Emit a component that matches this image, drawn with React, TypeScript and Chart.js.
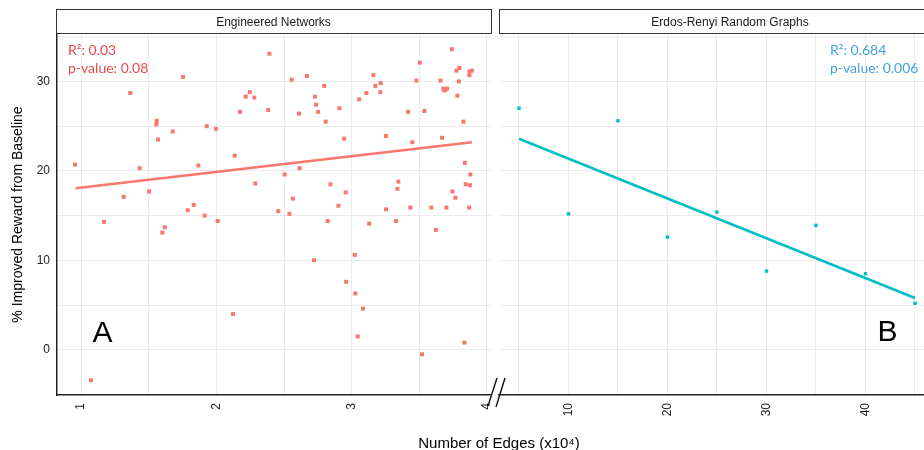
import React, { useEffect, useRef } from 'react';
import { Chart, registerables } from 'chart.js';
Chart.register(...registerables);

// ---------- data ----------
const ENG_X = [
  0.956, 1.364, 1.754, 2.392, 1.559, 1.557, 1.569, 1.678, 1.929, 1.998,
  2.175, 2.217, 2.247, 2.281, 2.384, 2.136, 1.434, 1.867, 2.288, 1.315,
  1.503, 1.788, 1.833, 1.914, 2.010, 1.170, 1.619, 1.601, 2.123, 1.074,
  3.740, 3.503, 3.774, 3.796, 3.870, 3.888, 3.870, 3.792, 3.656, 3.478,
  2.557, 2.670, 3.160, 2.798, 3.175, 3.215, 3.678, 3.695, 3.685, 3.705,
  2.729, 3.109, 3.212, 2.737, 3.055, 3.781, 2.752, 2.611, 2.909, 3.417,
  3.537, 2.808, 3.826, 2.944, 3.254, 3.449, 3.668, 3.836, 3.877, 2.505,
  2.616, 3.843, 3.875, 3.345, 3.338, 2.843, 2.956, 3.744, 3.766, 2.565,
  2.902, 2.458, 2.540, 3.254, 3.434, 3.589, 3.700, 3.868, 2.823, 3.129,
  3.328, 3.622, 3.023, 2.722, 2.959, 3.027, 3.084, 3.045, 3.833, 3.520,
];
const ENG_Y = [
  20.7, 28.7, 30.5, 33.1, 25.6, 25.2, 23.5, 24.4, 25.0, 24.7,
  26.6, 28.3, 28.8, 28.2, 26.8, 21.7, 20.3, 20.6, 18.6, 17.1,
  17.7, 15.6, 16.2, 15.0, 14.4, 14.3, 13.7, 13.1, 4.0, -3.4,
  33.6, 32.1, 31.2, 31.5, 31.1, 31.2, 30.7, 30.0, 30.1, 30.1,
  30.2, 30.6, 30.7, 29.5, 29.5, 29.8, 29.2, 29.1, 29.0, 29.2,
  28.3, 28.7, 28.8, 27.4, 28.0, 28.4, 26.6, 26.4, 27.0, 26.6,
  26.7, 25.5, 25.5, 23.6, 23.9, 23.2, 23.7, 20.9, 19.6, 19.6,
  20.3, 18.5, 18.4, 18.8, 18.0, 18.5, 17.6, 17.7, 17.0, 16.9,
  16.1, 15.5, 15.2, 15.7, 15.9, 15.9, 15.9, 15.9, 14.4, 14.1,
  14.4, 13.4, 10.6, 10.0, 7.6, 6.3, 4.6, 1.5, 0.8, -0.5,
];
const ER_X = [5, 10, 15, 20, 25, 30, 35, 40, 45];
const ER_Y = [27.0, 15.2, 25.6, 12.6, 15.4, 8.8, 13.9, 8.5, 5.2];

// fitted-line end points
const ENG_FIT_X = [0.96, 3.888];
const ENG_FIT_Y = [18.05, 23.2];
const ER_FIT_X = [5, 45];
const ER_FIT_Y = [23.6, 5.8];

const Y_TICKS = [-5, 0, 5, 10, 15, 20, 25, 30, 35];
const Y_LABELED = [0, 10, 20, 30];
const ENG_X_TICKS = [1, 1.5, 2, 2.5, 3, 3.5, 4];
const ENG_X_LABELED = [1, 2, 3, 4];
const ER_X_TICKS = [5, 10, 15, 20, 25, 30, 35, 40, 45];
const ER_X_LABELED = [10, 20, 30, 40];

const PANEL_TITLES = ['Engineered Networks', 'Erdos-Renyi Random Graphs'];
const ENG_STATS = ['R\u00B2: 0.03', 'p-value: 0.08'];
const ER_STATS = ['R\u00B2: 0.684', 'p-value: 0.006'];
const PANEL_TAGS = ['A', 'B'];
const Y_TITLE = '% Improved Reward from Baseline';
const X_TITLE = 'Number of Edges (x10\u2074)';

// ---------- styles ----------
const W = 924;
const H = 450;
const SANS = '"Liberation Sans", Arial, sans-serif';
const NOTE = 'Lato, "Open Sans", sans-serif';
const RED = '#F8766D';
const TEAL = '#00BFC4';
const GRID = '#EBEBEB';
const TICK_COLOR = '#222222';

function xyPairs(xs: number[], ys: number[]) {
  return xs.map((x, i) => ({ x, y: ys[i] }));
}

function fixTicks(list: number[]) {
  return (axis: any) => {
    axis.ticks = list.map((v) => ({ value: v }));
  };
}

function yScale(showLabels: boolean, showTitle: boolean, width: number, showBorder: boolean) {
  return {
    type: 'linear',
    min: -5.05,
    max: 35.3,
    afterBuildTicks: fixTicks(Y_TICKS),
    afterFit: (s: any) => {
      s.width = width;
      s.paddingTop = 0;
      s.paddingBottom = 0;
    },
    grid: { color: GRID, lineWidth: 1, drawTicks: false },
    border: { display: showBorder, color: '#222', width: 1.5 },
    ticks: {
      display: showLabels,
      autoSkip: false,
      padding: 7,
      color: TICK_COLOR,
      font: { family: SANS, size: 12 },
      callback: (v: any) => (Y_LABELED.includes(v) ? String(v) : ''),
    },
    title: {
      display: showTitle,
      text: Y_TITLE,
      color: '#000',
      font: { family: SANS, size: 14 },
      padding: { top: 10, bottom: 0 },
    },
  };
}

function xScale(min: number, max: number, ticks: number[], labeled: number[]) {
  return {
    type: 'linear',
    min,
    max,
    afterBuildTicks: fixTicks(ticks),
    afterFit: (s: any) => {
      s.height = H - 395;
      s.paddingLeft = 0;
      s.paddingRight = 0;
    },
    grid: { color: GRID, lineWidth: 1, drawTicks: false },
    border: { display: true, color: '#222', width: 1.5 },
    ticks: {
      autoSkip: false,
      minRotation: 90,
      maxRotation: 90,
      padding: 8,
      color: TICK_COLOR,
      font: { family: SANS, size: 12 },
      callback: (v: any) => (labeled.includes(v) ? String(v) : ''),
    },
  };
}

const figurePlugin = {
  id: 'figureDecor',
  afterDraw(chart: any) {
    const ctx = chart.ctx;
    ctx.save();
    // strips
    ctx.fillStyle = '#fff';
    ctx.strokeStyle = '#333';
    ctx.lineWidth = 1;
    ctx.fillRect(56.5, 9.5, 435, 24);
    ctx.strokeRect(56.5, 9.5, 435, 24);
    ctx.fillRect(499.5, 9.5, 470, 24);
    ctx.strokeRect(499.5, 9.5, 470, 24);
    ctx.fillStyle = '#1A1A1A';
    ctx.font = `12px ${SANS}`;
    ctx.textAlign = 'center';
    ctx.textBaseline = 'alphabetic';
    ctx.fillText(PANEL_TITLES[0], 273.5, 26);
    ctx.fillText(PANEL_TITLES[1], 730, 26);

    // stats text, left panel
    ctx.textAlign = 'left';
    ctx.fillStyle = '#E8494A';
    ctx.font = `14px ${NOTE}`;
    ctx.fillText(ENG_STATS[0], 68, 55);
    ctx.fillText(ENG_STATS[1], 68, 72.5);

    // tag A
    ctx.fillStyle = '#000';
    ctx.font = `30px ${SANS}`;
    ctx.fillText(PANEL_TAGS[0], 92.5, 341.5);

    // axis break marks
    ctx.strokeStyle = '#111';
    ctx.lineWidth = 1.4;
    ctx.beginPath();
    ctx.moveTo(488, 406);
    ctx.lineTo(497, 378);
    ctx.moveTo(496, 407);
    ctx.lineTo(505, 378);
    ctx.stroke();

    // x title
    ctx.fillStyle = '#000';
    ctx.font = `15px ${SANS}`;
    ctx.textAlign = 'center';
    ctx.fillText(X_TITLE, 499, 448);
    ctx.restore();
  },
};

const rightPlugin = {
  id: 'rightDecor',
  afterDraw(chart: any) {
    const ctx = chart.ctx;
    ctx.save();
    ctx.textAlign = 'left';
    ctx.fillStyle = '#45A5DA';
    ctx.font = `14px ${NOTE}`;
    ctx.fillText(ER_STATS[0], 830, 55);
    ctx.fillText(ER_STATS[1], 830, 72.5);
    ctx.fillStyle = '#000';
    ctx.font = `30px ${SANS}`;
    ctx.fillText(PANEL_TAGS[1], 877.5, 340.5);
    ctx.restore();
  },
};

export default function App() {
  const leftRef = useRef<HTMLCanvasElement>(null);
  const rightRef = useRef<HTMLCanvasElement>(null);

  useEffect(() => {
    const left = new Chart(leftRef.current as HTMLCanvasElement, {
      type: 'scatter',
      data: {
        datasets: [
          {
            type: 'scatter',
            data: xyPairs(ENG_X, ENG_Y),
            pointStyle: 'rect',
            pointRadius: 2.8,
            backgroundColor: RED,
            borderWidth: 0,
          },
          {
            type: 'line',
            data: xyPairs(ENG_FIT_X, ENG_FIT_Y),
            borderColor: RED,
            borderWidth: 2.6,
            pointRadius: 0,
            fill: false,
            tension: 0,
          },
        ],
      } as any,
      options: {
        responsive: false,
        animation: false,
        devicePixelRatio: 1,
        layout: { autoPadding: false, padding: { left: 0, top: 34, right: W - 491, bottom: 0 } },
        plugins: { legend: { display: false }, tooltip: { enabled: false } },
        scales: {
          x: xScale(0.8226, 4.0296, ENG_X_TICKS, ENG_X_LABELED),
          y: yScale(true, true, 57, true),
        },
      } as any,
      plugins: [figurePlugin],
    });

    const right = new Chart(rightRef.current as HTMLCanvasElement, {
      type: 'scatter',
      data: {
        datasets: [
          {
            type: 'scatter',
            data: xyPairs(ER_X, ER_Y),
            pointStyle: 'rect',
            pointRadius: 2.4,
            backgroundColor: TEAL,
            borderWidth: 0,
          },
          {
            type: 'line',
            data: xyPairs(ER_FIT_X, ER_FIT_Y),
            borderColor: TEAL,
            borderWidth: 2.6,
            pointRadius: 0,
            fill: false,
            tension: 0,
          },
        ],
      } as any,
      options: {
        responsive: false,
        animation: false,
        devicePixelRatio: 1,
        layout: { autoPadding: false, padding: { left: 499, top: 34, right: 0, bottom: 0 } },
        plugins: { legend: { display: false }, tooltip: { enabled: false } },
        scales: {
          x: xScale(2.98, 45.91, ER_X_TICKS, ER_X_LABELED),
          y: yScale(false, false, 0, false),
        },
      } as any,
      plugins: [rightPlugin],
    });

    return () => {
      left.destroy();
      right.destroy();
    };
  }, []);

  const canvasStyle: React.CSSProperties = {
    position: 'absolute',
    left: 0,
    top: 0,
    width: W,
    height: H,
  };

  return (
    <div style={{ position: 'fixed', left: 0, top: 0, width: W, height: H, background: '#fff' }}>
      <canvas ref={leftRef} width={W} height={H} style={canvasStyle} />
      <canvas ref={rightRef} width={W} height={H} style={canvasStyle} />
    </div>
  );
}
